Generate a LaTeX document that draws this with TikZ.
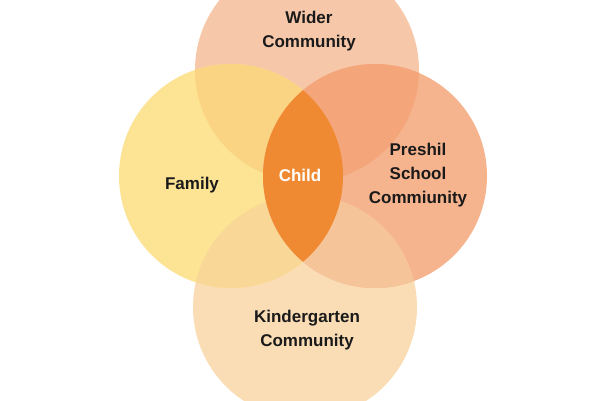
\documentclass[tikz,border=0pt]{standalone}
\usepackage{fontspec}
\setmainfont{Liberation Sans}
\definecolor{cT}{HTML}{F6C8A9}
\definecolor{cL}{HTML}{FDE494}
\definecolor{cR}{HTML}{F5B38E}
\definecolor{cB}{HTML}{FADDB5}
\definecolor{cTL}{HTML}{FBD483}
\definecolor{cTR}{HTML}{F4A67A}
\definecolor{cBL}{HTML}{F9D797}
\definecolor{cBR}{HTML}{F6C499}
\definecolor{cChild}{HTML}{EF8A33}
\definecolor{txt}{HTML}{1A1A1A}
\begin{document}
\begin{tikzpicture}[x=1pt,y=-1pt,
  lbl/.style={font=\fontsize{17}{24}\selectfont\bfseries, text=txt, align=center, inner sep=0pt},
  ring/.style={circle, minimum size=224pt, inner sep=0pt, draw=none}]
\useasboundingbox (0,0) rectangle (600,400);
\fill[white] (0,0) rectangle (600,400);
\begin{scope}
\clip (0,0) rectangle (600,400);
% circle nodes
\node[ring, fill=cT] (top) at (307,70) {};
\node[ring, fill=cB] (bot) at (305,307) {};
\node[ring, fill=cL] (left) at (231,176) {};
\node[ring, fill=cR] (right) at (375,176) {};
% overlaps with left
\begin{scope}
\clip (231,176) circle (112);
\fill[cTL] (307,70) circle (112);
\fill[cBL] (305,307) circle (112);
\end{scope}
% overlaps with right
\begin{scope}
\clip (375,176) circle (112);
\fill[cTR] (307,70) circle (112);
\fill[cBR] (305,307) circle (112);
\end{scope}
% child lens
\begin{scope}
\clip (231,176) circle (112);
\fill[cChild] (375,176) circle (112);
\end{scope}
\end{scope}
% labels
\node[lbl] (wider) at (309,31) {Wider\\Community};
\node[lbl] (family) at (192,185) {Family};
\node[lbl, text=white] (child) at (300,175) {Child};
\node[lbl] (preshil) at (418,175) {Preshil\\School\\Commiunity};
\node[lbl] (kinder) at (307,330) {Kindergarten\\Community};
\end{tikzpicture}
\end{document}
